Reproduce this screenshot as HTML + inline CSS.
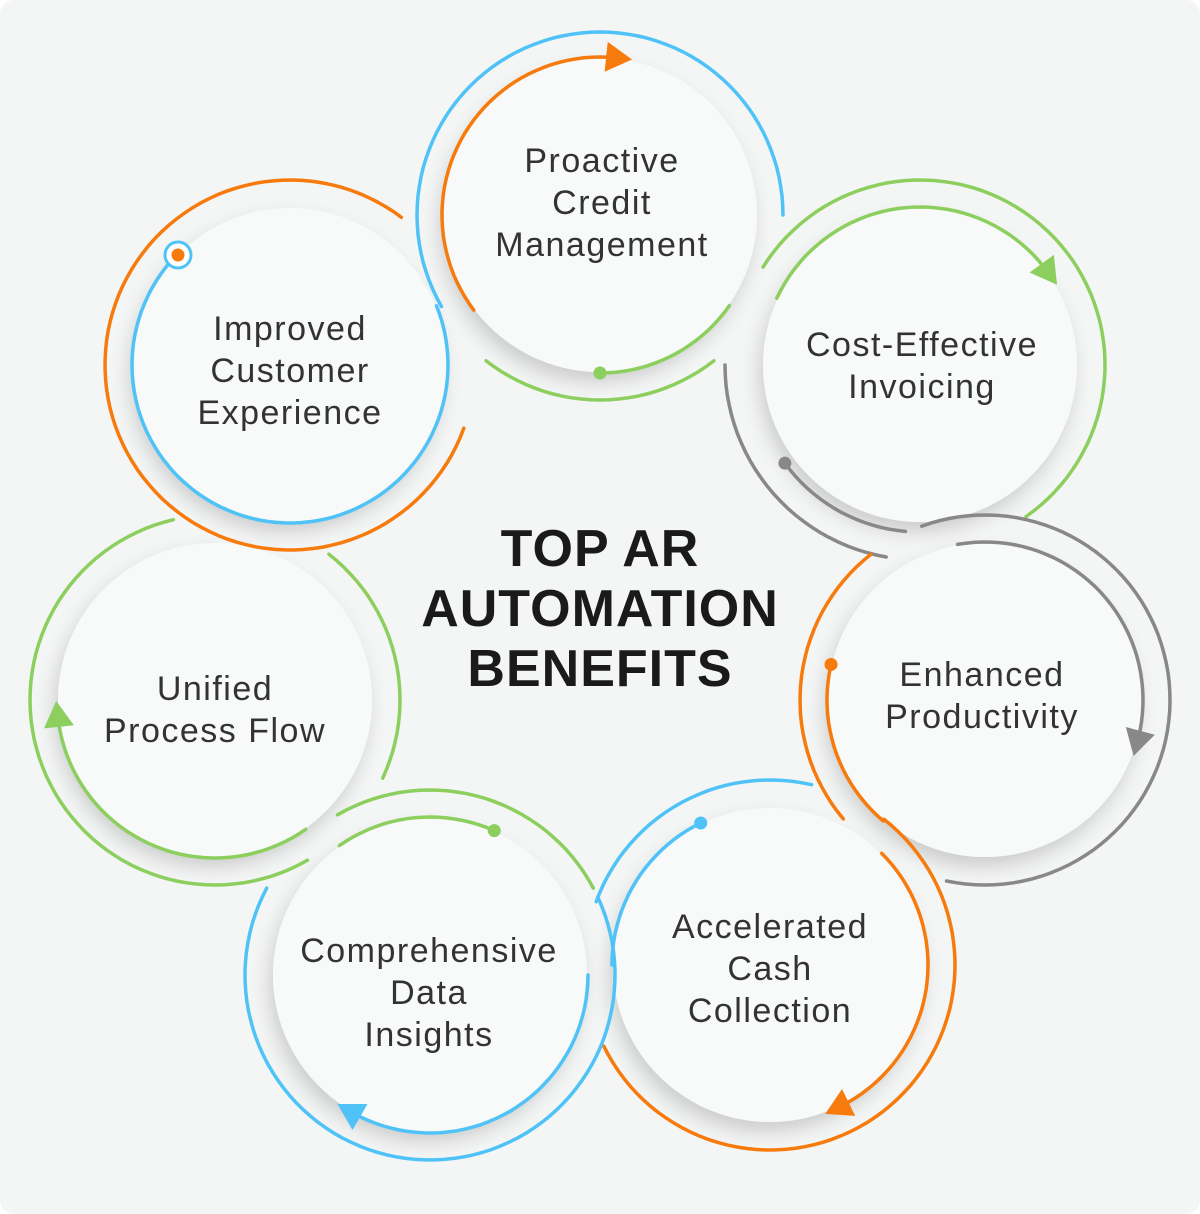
<!DOCTYPE html>
<html><head><meta charset="utf-8"><style>
html,body{margin:0;padding:0;background:#fff}
#w{width:1200px;height:1214px;position:relative;background:#f4f5f5;border-radius:14px;overflow:hidden}
svg{position:absolute;left:0;top:0}
.t{font-family:"Liberation Sans",sans-serif;fill:#333;font-size:34px;letter-spacing:1.5px;text-anchor:middle}
.h{font-family:"Liberation Sans",sans-serif;fill:#1a1a1a;font-size:52px;letter-spacing:1px;font-weight:bold;text-anchor:middle}
</style></head><body><div id="w">
<svg id="s" width="1200" height="1214" viewBox="0 0 1200 1214">
<defs><filter id="sh" x="-30%" y="-30%" width="160%" height="160%"><feDropShadow dx="-4" dy="10" stdDeviation="9" flood-color="#000" flood-opacity="0.16"/></filter></defs>
<g id="discs"></g><g id="arcs" fill="none" stroke-width="3.5" stroke-linecap="round"></g><g id="txt"></g>
</svg></div>
<script>
var NS="http://www.w3.org/2000/svg";
function el(p,t,a){var e=document.createElementNS(NS,t);for(var k in a)e.setAttribute(k,a[k]);document.getElementById(p).appendChild(e);return e;}
var C={b:"#4fc3f7",o:"#f77a0c",g:"#8ccf5e",k:"#888"};
var centers=[[600,215],[920,365],[985,700],[770,965],[430,975],[215,700],[290,365]];
centers.forEach(function(c){el("discs","circle",{cx:c[0],cy:c[1],r:157,fill:"#f8f9f9",filter:"url(#sh)"});});
function pt(cx,cy,r,a){a=a*Math.PI/180;return [cx+r*Math.cos(a),cy+r*Math.sin(a)];}
function arc(cx,cy,r,a1,a2,col){var N=Math.max(8,Math.ceil(Math.abs(a2-a1)/3));var d="";for(var i=0;i<=N;i++){var p=pt(cx,cy,r,a1+(a2-a1)*i/N);d+=(i?"L":"M")+p[0].toFixed(1)+" "+p[1].toFixed(1);}el("arcs","path",{d:d,stroke:col});}
function dot(cx,cy,r,a,col){var p=pt(cx,cy,r,a);el("arcs","circle",{cx:p[0],cy:p[1],r:6.5,fill:col,stroke:"none"});}
function arrow(cx,cy,r,a,dir,col){var p=pt(cx,cy,r,a);var rad=a*Math.PI/180;var tx=-Math.sin(rad)*dir,ty=Math.cos(rad)*dir;var nx=-ty,ny=tx;var L=26,W=15;
var tip=[p[0]+tx*L*0.6,p[1]+ty*L*0.6],b=[p[0]-tx*L*0.4,p[1]-ty*L*0.4];
el("arcs","polygon",{points:tip.join(",")+" "+(b[0]+nx*W)+","+(b[1]+ny*W)+" "+(b[0]-nx*W)+","+(b[1]-ny*W),fill:col,stroke:"none"});}
// 1 Proactive
arc(600,215,183,150,360,C.b);
arc(600,215,158,143,276,C.o);arrow(600,215,158,-84,1,C.o);
arc(600,215,185,128,52,C.g);
arc(600,215,158,90,35,C.g);dot(600,215,158,90,C.g);
// 7 Improved
arc(290,365,185,-53,-340,C.o);
arc(290,365,158,224,-22,C.b);
el("arcs","circle",{cx:178,cy:255,r:13,fill:"#fff",stroke:C.b,"stroke-width":3});
el("arcs","circle",{cx:178,cy:255,r:6.5,fill:C.o,stroke:"none"});
// 2 Cost-Effective
arc(920,365,185,212,415,C.g);
arc(920,365,158,205,322,C.g);arrow(920,365,158,-36,1,C.g);
arc(920,365,195,180,100,C.k);
arc(920,365,167,144,95,C.k);dot(920,365,167,144,C.k);
// 3 Enhanced
arc(985,700,185,-110,102,C.k);
arc(985,700,158,-100,17,C.k);arrow(985,700,158,15,1,C.k);
arc(985,700,185,232,140,C.o);
arc(985,700,158,193,130,C.o);dot(985,700,158,193,C.o);
// 4 Accelerated
arc(770,965,185,-52,154,C.o);
arc(770,965,158,-45,66,C.o);arrow(770,965,158,64,1,C.o);
arc(770,965,185,-77,-160,C.b);
arc(770,965,158,244,180,C.b);dot(770,965,158,244,C.b);
// 5 Comprehensive
arc(430,975,185,-25,208,C.b);
arc(430,975,158,0,122,C.b);arrow(430,975,158,120,1,C.b);
arc(430,975,185,-28,-120,C.g);
arc(430,975,158,-66,-125,C.g);dot(430,975,158,-66,C.g);
// 6 Unified
arc(215,700,185,-52,25,C.g);
arc(215,700,185,257,60,C.g);
arc(215,700,158,55,172,C.g);arrow(215,700,158,174,1,C.g);
// text
function tx(x,y,lines,lh){lines.forEach(function(s,i){var t=el("txt","text",{x:x,y:y+i*lh,"class":"t"});t.textContent=s;});}
tx(602,172,["Proactive","Credit","Management"],42);
tx(922,356,["Cost-Effective","Invoicing"],42);
tx(982,686,["Enhanced","Productivity"],42);
tx(770,938,["Accelerated","Cash","Collection"],42);
tx(429,962,["Comprehensive","Data","Insights"],42);
tx(215,700,["Unified","Process Flow"],42);
tx(290,340,["Improved","Customer","Experience"],42);
[["TOP AR",566],["AUTOMATION",626],["BENEFITS",686]].forEach(function(a){var t=el("txt","text",{x:600,y:a[1],"class":"h"});t.textContent=a[0];});
</script>
</body></html>
